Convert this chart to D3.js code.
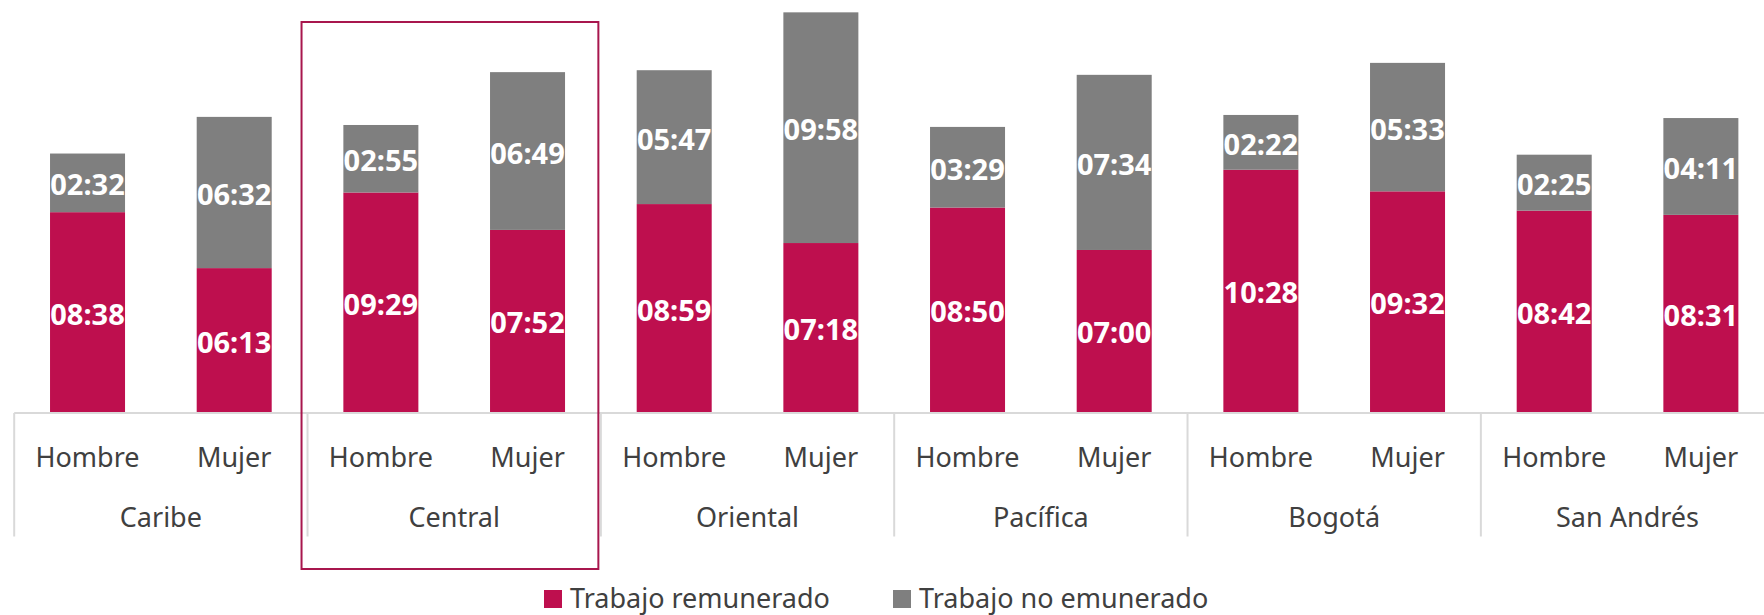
<!DOCTYPE html>
<html>
<head>
<meta charset="utf-8">
<script src="https://cdn.jsdelivr.net/npm/d3@7"></script>
<style>
  html, body { margin: 0; padding: 0; background: #ffffff; }
  svg { display: block; }
  text { font-family: "Noto Sans", "Open Sans", sans-serif; }
</style>
</head>
<body>
<svg id="chart" width="1764" height="615"></svg>
<script>
// ---- Data ----
const regions = ["Caribe", "Central", "Oriental", "Pacífica", "Bogotá", "San Andrés"];
const sexes = ["Hombre", "Mujer"];
// Trabajo remunerado (hh:mm), per region: [Hombre, Mujer]
const paidHombre   = ["08:38", "09:29", "08:59", "08:50", "10:28", "08:42"];
const paidMujer    = ["06:13", "07:52", "07:18", "07:00", "09:32", "08:31"];
// Trabajo no remunerado (hh:mm)
const unpaidHombre = ["02:32", "02:55", "05:47", "03:29", "02:22", "02:25"];
const unpaidMujer  = ["06:32", "06:49", "09:58", "07:34", "05:33", "04:11"];
const seriesNames = ["Trabajo remunerado", "Trabajo no emunerado"];
const highlighted = "Central";

// ---- Helpers ----
const toHours = s => { const [h, m] = s.split(":").map(Number); return h + m / 60; };

const rows = [];
regions.forEach((r, i) => {
  rows.push({ region: r, sex: "Hombre", paid: paidHombre[i], unpaid: unpaidHombre[i] });
  rows.push({ region: r, sex: "Mujer", paid: paidMujer[i], unpaid: unpaidMujer[i] });
});

// ---- Layout ----
const W = 1764, H = 615;
const baseY = 412;
const colors = { paid: "#BE0F4E", unpaid: "#7F7F7F" };

const svg = d3.select("#chart");

const x0 = d3.scaleBand().domain(regions).range([14.2, 1774.2]).padding(0);
const x1 = d3.scaleBand().domain(sexes).range([0, x0.bandwidth()])
  .paddingInner(0.4886).paddingOuter(0.2443);
const y = d3.scaleLinear().domain([0, 17.8]).range([baseY, 0]);

// Bars
const g = svg.append("g");
rows.forEach(d => {
  const xb = x0(d.region) + x1(d.sex);
  const bw = x1.bandwidth();
  const p = toHours(d.paid), u = toHours(d.unpaid);
  // paid segment
  g.append("rect")
    .attr("x", xb).attr("width", bw)
    .attr("y", y(p)).attr("height", y(0) - y(p))
    .attr("fill", colors.paid);
  // unpaid segment
  g.append("rect")
    .attr("x", xb).attr("width", bw)
    .attr("y", y(p + u)).attr("height", y(p) - y(p + u))
    .attr("fill", colors.unpaid);
  // labels
  g.append("text")
    .attr("x", xb + bw / 2).attr("y", (y(0) + y(p)) / 2 + 12.5)
    .attr("text-anchor", "middle").attr("fill", "#ffffff")
    .attr("font-size", 29).attr("font-weight", "bold")
    .text(d.paid);
  g.append("text")
    .attr("x", xb + bw / 2).attr("y", (y(p) + y(p + u)) / 2 + 12.5)
    .attr("text-anchor", "middle").attr("fill", "#ffffff")
    .attr("font-size", 29).attr("font-weight", "bold")
    .text(d.unpaid);
});

// Category axis: baseline line
svg.append("line")
  .attr("x1", x0.range()[0]).attr("x2", W)
  .attr("y1", baseY + 1).attr("y2", baseY + 1)
  .attr("stroke", "#D9D9D9").attr("stroke-width", 2);

// Group separators
regions.forEach(r => {
  svg.append("line")
    .attr("x1", x0(r)).attr("x2", x0(r))
    .attr("y1", baseY + 1).attr("y2", 536.5)
    .attr("stroke", "#D9D9D9").attr("stroke-width", 2);
});

// Sex labels
regions.forEach(r => {
  sexes.forEach(s => {
    svg.append("text")
      .attr("x", x0(r) + x1(s) + x1.bandwidth() / 2)
      .attr("y", 466.5)
      .attr("text-anchor", "middle")
      .attr("fill", "#404040")
      .attr("font-size", 27)
      .text(s);
  });
  svg.append("text")
    .attr("x", x0(r) + x0.bandwidth() / 2)
    .attr("y", 527)
    .attr("text-anchor", "middle")
    .attr("fill", "#404040")
    .attr("font-size", 27)
    .text(r);
});

// Highlight box around Central
svg.append("rect")
  .attr("x", x0(highlighted) - 6)
  .attr("y", 22)
  .attr("width", x0.bandwidth() + 3.5)
  .attr("height", 547)
  .attr("fill", "none")
  .attr("stroke", "#A8164D")
  .attr("stroke-width", 2);

// Legend
const legendItems = [
  { name: seriesNames[0], color: colors.paid, x: 544 },
  { name: seriesNames[1], color: colors.unpaid, x: 893 }
];
legendItems.forEach(it => {
  svg.append("rect")
    .attr("x", it.x).attr("y", 590)
    .attr("width", 18).attr("height", 18)
    .attr("fill", it.color);
  svg.append("text")
    .attr("x", it.x + 26).attr("y", 608.3)
    .attr("fill", "#404040")
    .attr("font-size", 27)
    .text(it.name);
});
</script>
</body>
</html>
